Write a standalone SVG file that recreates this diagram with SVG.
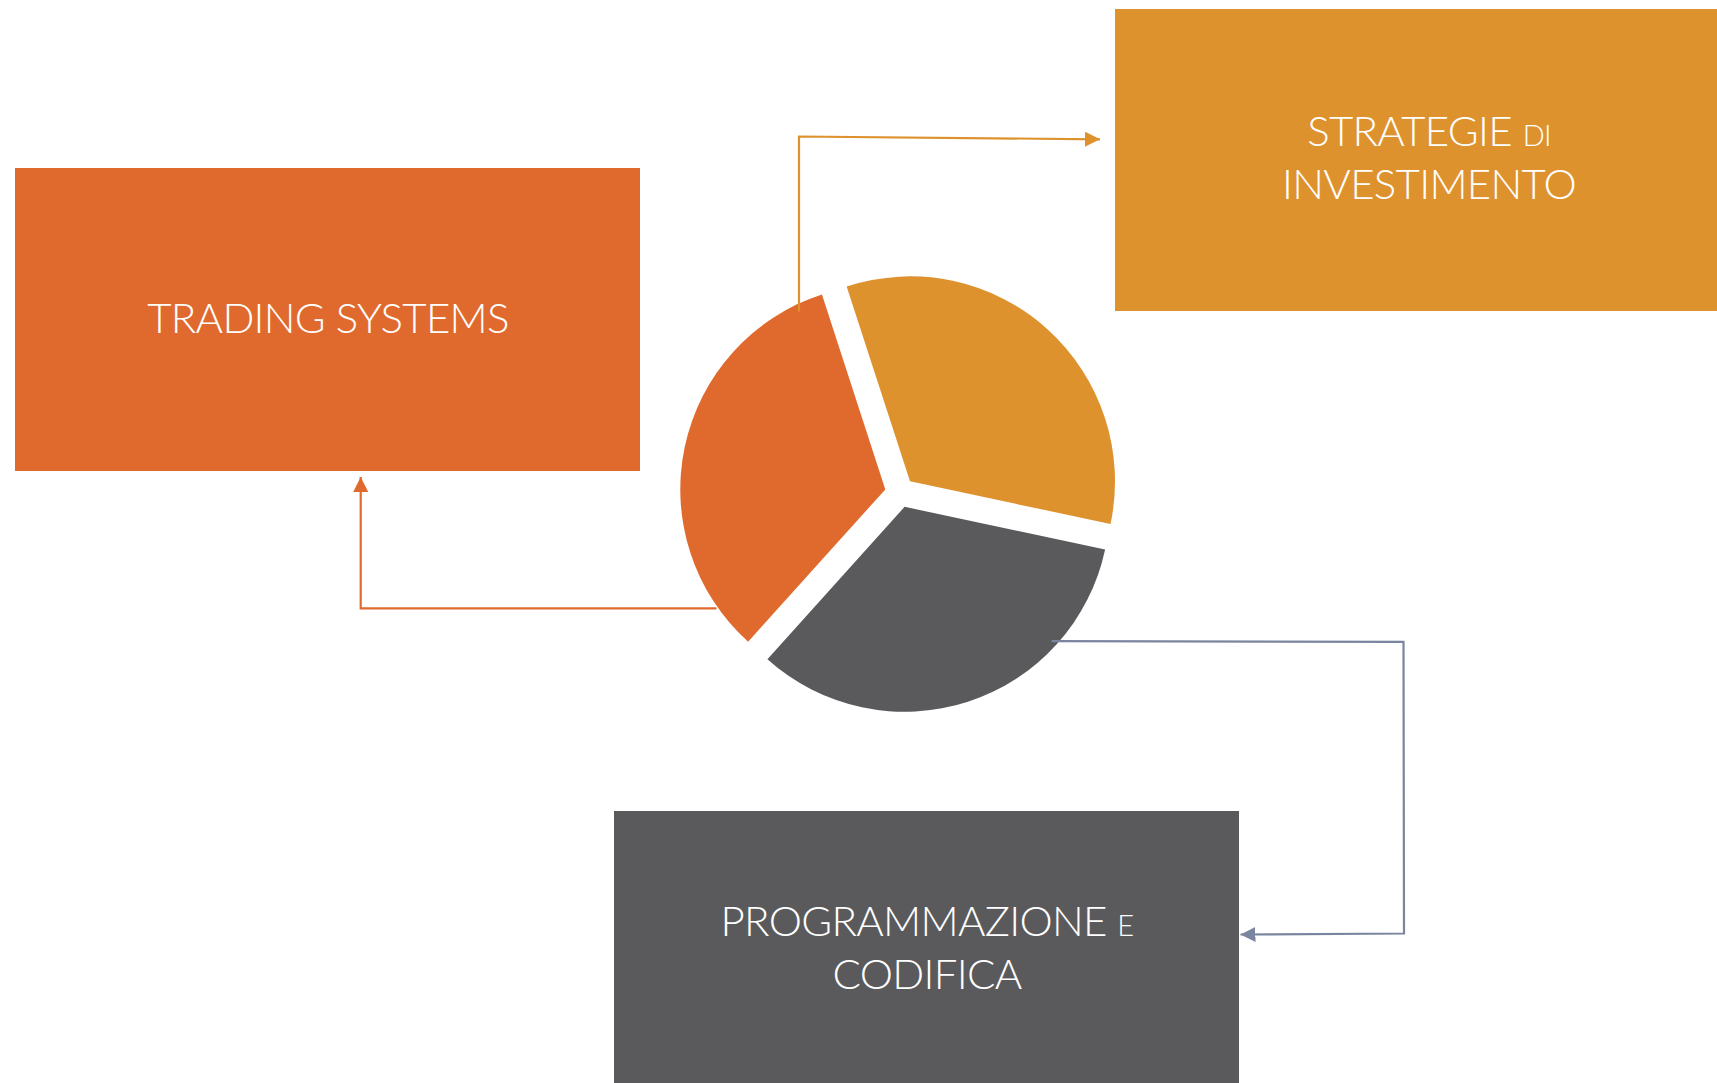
<svg xmlns="http://www.w3.org/2000/svg" width="1717" height="1083" viewBox="0 0 1717 1083">
<style>
.lbl{font-family:Lato,"Open Sans","Liberation Sans",sans-serif;font-weight:300;font-size:42px;fill:#ffffff;text-anchor:middle;letter-spacing:-0.7px}
.sc{font-size:29px}
.conn{fill:none;stroke-width:2.2}
</style>
<defs>
<marker id="aAmber" viewBox="0 0 15 15" refX="15" refY="7.5" markerWidth="15" markerHeight="15" markerUnits="userSpaceOnUse" orient="auto"><path d="M0 0 L15 7.5 L0 15 Z" fill="#DE922E"/></marker>
<marker id="aOrange" viewBox="0 0 15 15" refX="15" refY="7.5" markerWidth="15" markerHeight="15" markerUnits="userSpaceOnUse" orient="auto"><path d="M0 0 L15 7.5 L0 15 Z" fill="#E06A2D"/></marker>
<marker id="aBlue" viewBox="0 0 15 15" refX="15" refY="7.5" markerWidth="15" markerHeight="15" markerUnits="userSpaceOnUse" orient="auto"><path d="M0 0 L15 7.5 L0 15 Z" fill="#7A85A0"/></marker>
</defs>
<rect width="1717" height="1083" fill="#ffffff"/>
<g id="trading-systems">
<rect x="15" y="168" width="625" height="303" fill="#E06A2D"/>
<text class="lbl" x="328" y="333">TRADING SYSTEMS</text>
</g>
<g id="strategie">
<rect x="1115" y="9" width="602" height="302" fill="#DE922E"/>
<text class="lbl" x="1429" y="146">STRATEGIE <tspan class="sc">DI</tspan></text>
<text class="lbl" x="1429" y="199">INVESTIMENTO</text>
</g>
<g id="programmazione">
<rect x="614" y="811" width="625" height="272" fill="#5A5A5C"/>
<text class="lbl" x="927" y="936">PROGRAMMAZIONE <tspan class="sc">E</tspan></text>
<text class="lbl" x="927" y="989">CODIFICA</text>
</g>
<g id="pie">
<path d="M910 481.35 L846.65 286.38 A205 205 0 0 1 1110.52 523.97 Z" fill="#DE922E"/>
<path d="M885.3 489.4 L748.13 641.74 A205 205 0 0 1 821.95 294.43 Z" fill="#E06A2D"/>
<path d="M904.6 506.8 L1105.12 549.42 A205 205 0 0 1 767.43 659.14 Z" fill="#5A5A5C"/>
</g>
<g id="connectors">
<path class="conn" d="M799 311.5 L799 136.5 L1100 139.3" stroke="#DE922E" marker-end="url(#aAmber)"/>
<path class="conn" d="M716.5 608.3 L360.7 608.3 L360.7 477" stroke="#E06A2D" marker-end="url(#aOrange)"/>
<path class="conn" d="M1051.7 641.2 L1403.5 641.8 L1404 933.5 L1240.5 934.5" stroke="#7A85A0" marker-end="url(#aBlue)"/>
</g>
</svg>
